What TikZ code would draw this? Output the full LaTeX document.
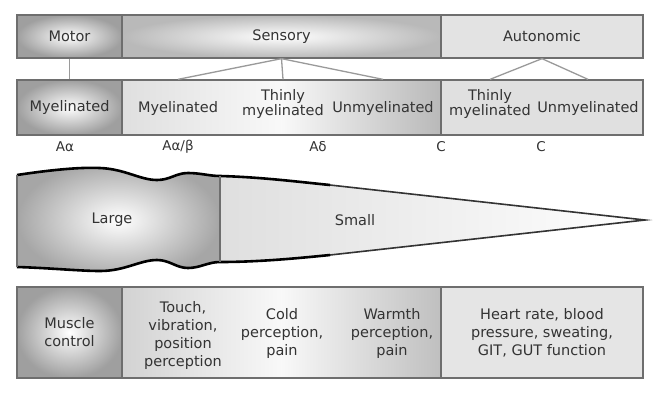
\documentclass[tikz,border=0pt]{standalone}
\usepackage{fontspec}
\setmainfont{DejaVu Sans}
\usetikzlibrary{positioning}
\definecolor{edgegray}{HTML}{6E6E6E}
\definecolor{linkgray}{HTML}{9A9A9A}
\definecolor{textgray}{HTML}{333333}
\newcommand{\cellfont}{\fontsize{14.5}{15}\selectfont}
\newcommand{\rolefont}{\fontsize{14.5}{18}\selectfont}

\begin{document}
\begin{tikzpicture}[x=1pt, y=-1pt,
    every node/.style={font=\cellfont, text=textgray, align=center},
    cell/.style={rectangle, draw=edgegray, line width=1.3pt, inner sep=0pt},
    topcell/.style={cell, minimum height=43pt},
    subcell/.style={cell, minimum height=55pt},
    rolecell/.style={cell, minimum height=91pt, font=\rolefont},
    typelabel/.style={font=\fontsize{13.5}{15}\selectfont},
    link/.style={draw=linkgray, line width=1.3pt},
]
\useasboundingbox[fill=white] (0,0) rectangle (658,400);
% divisions
\node[topcell, minimum width=105pt, inner color=white, outer color=gray!75] (motor) at (69.5,36.5) {Motor};
\node[topcell, minimum width=319pt, inner color=white, outer color=gray!55] (sensory) at (281.5,36.5) {Sensory};
\node[topcell, minimum width=202pt, fill=gray!22] (autonomic) at (542,36.5) {Autonomic};
% fibre types
\node[subcell, minimum width=105pt, inner color=white, outer color=gray!75] (myel) at (69.5,107.5) {Myelinated};
\node[subcell, minimum width=319pt, left color=gray!25, right color=gray!55, middle color=gray!5] (sens2) at (281.5,107.5) {};
\node[subcell, minimum width=202pt, fill=gray!24] (auto2) at (542,107.5) {};
\node (smyel) at (178,108) {Myelinated};
\node (sthin) at (283,104) {Thinly\\myelinated};
\node (sunmy) at (383,108) {Unmyelinated};
\node (athin) at (490,104) {Thinly\\myelinated};
\node (aunmy) at (588,108) {Unmyelinated};
\draw[link] (motor.south) -- (myel.north);
\draw[link] (sensory.south) -- (smyel.north |- sens2.north);
\draw[link] (sensory.south) -- (sthin.north |- sens2.north);
\draw[link] (sensory.south) -- (sunmy.north |- sens2.north);
\draw[link] (autonomic.south) -- (athin.north |- auto2.north);
\draw[link] (autonomic.south) -- (aunmy.north |- auto2.north);
\node[typelabel] (aa) at (65,147) {Aα};
\node[typelabel] (aab) at (178,147) {Aα/β};
\node[typelabel] (ad) at (318,147) {Aδ};
\node[typelabel] (cs) at (441,147) {C};
\node[typelabel] (ca) at (541,147) {C};
% fibre size
\begin{scope}
  \clip (17,175) .. controls (50,170) and (80,167) .. (100,168)
    .. controls (125,169) and (140,180) .. (157,180)
    .. controls (170,180) and (176,173) .. (188,173)
    .. controls (200,173) and (210,176) .. (220,176)
    .. controls (260,177) and (300,182) .. (330,185) -- (645,220) -- (330,255)
    .. controls (300,258) and (260,262) .. (220,262)
    .. controls (208,262) and (200,268) .. (188,268)
    .. controls (176,268) and (170,260) .. (157,260)
    .. controls (140,260) and (125,271) .. (100,271)
    .. controls (80,271) and (50,268) .. (17,267) -- cycle;
  \shade[inner color=white, outer color=gray!70] (17,160) rectangle (220,280);
  \shade[left color=gray!25, right color=white] (220,160) rectangle (645,280);
\end{scope}
\draw[line width=2.6pt] (17,175) .. controls (50,170) and (80,167) .. (100,168)
    .. controls (125,169) and (140,180) .. (157,180)
    .. controls (170,180) and (176,173) .. (188,173)
    .. controls (200,173) and (210,176) .. (220,176)
    .. controls (260,177) and (300,182) .. (330,185);
\draw[line width=2.6pt] (330,255) .. controls (300,258) and (260,262) .. (220,262)
    .. controls (208,262) and (200,268) .. (188,268)
    .. controls (176,268) and (170,260) .. (157,260)
    .. controls (140,260) and (125,271) .. (100,271)
    .. controls (80,271) and (50,268) .. (17,267);
\draw[line width=1.6pt, black!80] (330,185) -- (645,220) -- (330,255);
\draw[edgegray, line width=1.3pt] (17,175) -- (17,267);
\draw[edgegray, line width=1.5pt] (220,176) -- (220,262);
\node (large) at (112,220) {Large};
\node (small) at (355,220) {Small};
% functions
\node[rolecell, minimum width=105pt, inner color=white, outer color=gray!75] (muscle) at (69.5,332.5) {Muscle\\control};
\node[rolecell, minimum width=319pt, left color=gray!35, right color=gray!50, middle color=gray!5] (sens3) at (281.5,332.5) {};
\node[rolecell, minimum width=202pt, fill=gray!20] (auto3) at (542,332.5) {Heart rate, blood\\pressure, sweating,\\GIT, GUT function};
\node[font=\rolefont] (touch) at (183,335) {Touch,\\vibration,\\position\\perception};
\node[font=\rolefont] (cold) at (282,333) {Cold\\perception,\\pain};
\node[font=\rolefont] (warm) at (392,333) {Warmth\\perception,\\pain};
\end{tikzpicture}
\end{document}
